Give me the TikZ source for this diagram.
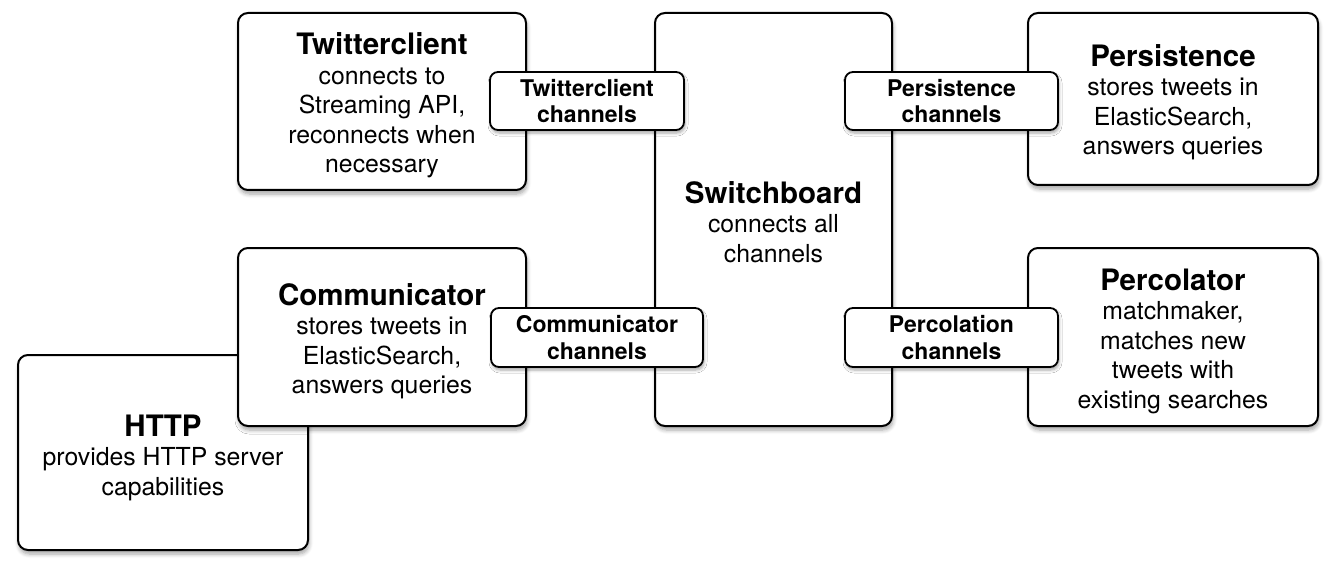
\documentclass[tikz,border=0pt]{standalone}
\usepackage{fontspec}
\setmainfont{TeX Gyre Heros}
\usetikzlibrary{shadows.blur}
\begin{document}
\begin{tikzpicture}[x=1pt,y=-1pt,
  box/.style={draw=black, line width=2pt, rounded corners=10pt, fill=white,
    blur shadow={shadow xshift=1pt, shadow yshift=-4pt, shadow blur steps=6, shadow blur radius=4pt, shadow opacity=35},
    inner sep=0pt},
  txt/.style={align=center, inner sep=0pt, font=\fontsize{24.8}{29.5}\selectfont},
  chan/.style={draw=black, line width=1.8pt, rounded corners=8pt, fill=white,
    blur shadow={shadow xshift=1pt, shadow yshift=-3pt, shadow blur steps=5, shadow blur radius=3pt, shadow opacity=35},
    align=center, inner sep=0pt, font=\fontsize{23}{26.5}\selectfont\bfseries},
]
\newcommand{\bt}[1]{{\fontsize{29.5}{30.5}\selectfont\bfseries #1}}
\useasboundingbox (0,0) rectangle (1335,572);

\node[box, minimum width=288, minimum height=177] (tc) at (382,101.5) {};
\node[txt] (tct) at ([yshift=-4pt]tc.center)
  {\bt{Twitterclient}\\ connects to\\ Streaming API,\\ reconnects when\\ necessary};
\node[box, minimum width=237, minimum height=413] (sb) at (773.5,219.5) {};
\node[txt] (sbt) at ([yshift=-2.5pt]sb.center)
  {\bt{Switchboard}\\ connects all\\ channels};
\node[box, minimum width=290, minimum height=172] (ps) at (1173,99) {};
\node[txt] (pst) at ([yshift=-3pt]ps.center)
  {\bt{Persistence}\\ stores tweets in\\ ElasticSearch,\\ answers queries};
\node[box, minimum width=290, minimum height=195] (http) at (163,452.5) {};
\node[txt] (httpt) at ([yshift=-5pt]http.center)
  {\bt{HTTP}\\ provides HTTP server\\ capabilities};
\node[box, minimum width=288, minimum height=178] (cm) at (382,337) {};
\node[txt] (cmt) at ([yshift=-4pt]cm.center)
  {\bt{Communicator}\\ stores tweets in\\ ElasticSearch,\\ answers queries};
\node[box, minimum width=290, minimum height=178] (pc) at (1173,337) {};
\node[txt] (pct) at ([yshift=-4pt]pc.center)
  {\bt{Percolator}\\ matchmaker,\\ matches new\\ tweets with\\ existing searches};

\node[chan, minimum width=194, minimum height=58] (tcc) at (587,101) {Twitterclient\\channels};
\node[chan, minimum width=213, minimum height=58] (psc) at (951.5,101) {Persistence\\channels};
\node[chan, minimum width=212, minimum height=59] (cmc) at (597,337.5) {Communicator\\channels};
\node[chan, minimum width=213, minimum height=59] (pcc) at (951.5,337.5) {Percolation\\channels};
\end{tikzpicture}
\end{document}
